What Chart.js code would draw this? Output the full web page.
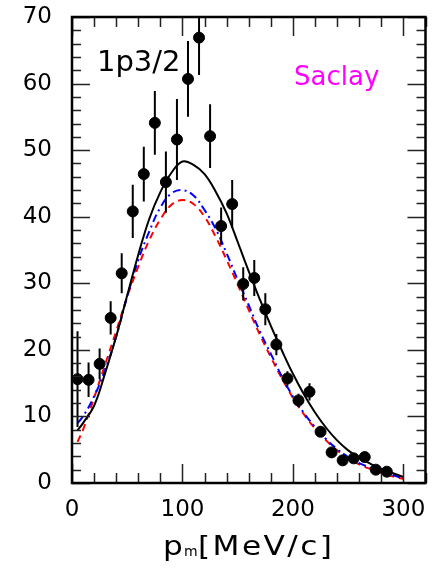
<!DOCTYPE html>
<html>
<head>
<meta charset="utf-8">
<script src="https://cdn.jsdelivr.net/npm/chart.js@4/dist/chart.umd.min.js"></script>
<style>
  html, body { margin: 0; padding: 0; background: #fff; }
  #wrap { width: 432px; height: 570px; }
</style>
</head>
<body>
<div id="wrap"><canvas id="myChart" width="432" height="570"></canvas></div>
<script>
// measured points (p_m in MeV/c)
var pm = [5, 15, 25, 35, 45, 55, 65, 75, 85, 95, 105, 115, 125, 135, 145, 155, 165, 175, 185, 195, 205, 215, 225, 235, 245, 255, 265, 275, 285];
var counts = [15.6, 15.5, 17.9, 24.8, 31.5, 40.8, 46.4, 54.1, 45.2, 51.6, 60.7, 66.9, 52.1, 38.6, 41.9, 29.9, 30.8, 26.1, 20.8, 15.7, 12.4, 13.7, 7.7, 4.6, 3.4, 3.7, 3.9, 2.0, 1.7];
var errs = [7.2, 2.6, 2.3, 2.5, 3.0, 4.0, 4.1, 4.8, 4.6, 6.1, 5.7, 5.6, 4.8, 2.8, 3.6, 2.5, 2.7, 2.4, 1.6, 1.1, 1.0, 1.3, 0.8, 0.7, 0.5, 0.5, 0.5, 0.4, 0.4];

// calculations
var curveX = [5, 10, 20, 30, 40, 50, 60, 70, 80, 90, 100, 110, 120, 130, 140, 150, 160, 170, 180, 190, 200, 210, 220, 230, 240, 250, 260, 270, 280, 290, 300];
var solid = [7.9, 9.0, 11.6, 16.5, 22.0, 28.2, 34.3, 39.7, 43.7, 46.6, 48.3, 47.8, 46.4, 43.8, 40.5, 36.2, 31.8, 27.6, 23.6, 19.9, 16.4, 13.3, 10.6, 8.3, 6.4, 4.9, 3.8, 2.9, 2.1, 1.5, 0.9];
var dashDot = [9.0, 10.0, 13.0, 17.0, 22.0, 28.0, 33.5, 37.8, 41.4, 43.5, 44.0, 43.2, 41.0, 38.2, 34.5, 30.5, 26.7, 22.8, 19.4, 16.0, 13.0, 10.5, 8.4, 6.6, 5.1, 3.9, 3.0, 2.3, 1.7, 1.2, 0.7];
var dashed = [6.2, 8.0, 12.8, 17.8, 22.8, 28.0, 32.5, 36.5, 39.6, 41.8, 42.5, 41.9, 40.0, 37.0, 33.5, 29.8, 26.0, 22.3, 18.9, 15.7, 12.8, 10.3, 8.2, 6.4, 4.9, 3.7, 2.8, 2.1, 1.5, 1.0, 0.6];

var xTicks = [0, 100, 200, 300];
var yTicks = [0, 10, 20, 30, 40, 50, 60, 70];

function pts(xs, ys) {
  var out = [];
  for (var i = 0; i < xs.length; i++) out.push({x: xs[i], y: ys[i]});
  return out;
}

// draw text stretched a bit sideways, the original font is wider than DejaVu
function wideText(ctx, txt, x, y, sx) {
  ctx.save();
  ctx.translate(x, y);
  ctx.scale(sx, 1);
  ctx.fillText(txt, 0, 0);
  ctx.restore();
}

var frameTicks = {
  id: 'frameTicks',
  afterDatasetsDraw: function(chart) {
    var ctx = chart.ctx, a = chart.chartArea;
    var xs = chart.scales.x, ys = chart.scales.y;
    ctx.save();
    // error bars
    ctx.beginPath();
    ctx.rect(a.left, a.top, a.right - a.left, a.bottom - a.top);
    ctx.clip();
    ctx.strokeStyle = '#000';
    ctx.lineWidth = 2;
    for (var i = 0; i < pm.length; i++) {
      var px = xs.getPixelForValue(pm[i]);
      ctx.beginPath();
      ctx.moveTo(px, ys.getPixelForValue(counts[i] - errs[i]));
      ctx.lineTo(px, ys.getPixelForValue(counts[i] + errs[i]));
      ctx.stroke();
    }
    ctx.restore();

    ctx.save();
    ctx.strokeStyle = '#222';
    ctx.lineWidth = 1.5;
    var v, p, len;
    for (v = 0; v <= 320; v += 20) {
      p = Math.round(xs.getPixelForValue(v)) + 0.5;
      len = (v % 100 === 0) ? 19 : 10;
      ctx.beginPath();
      ctx.moveTo(p, a.bottom); ctx.lineTo(p, a.bottom - len);
      ctx.moveTo(p, a.top); ctx.lineTo(p, a.top + len);
      ctx.stroke();
    }
    for (v = 0; v <= 70; v += 2) {
      p = Math.round(ys.getPixelForValue(v)) + 0.5;
      len = (v % 10 === 0) ? 18 : 9;
      ctx.beginPath();
      ctx.moveTo(a.left, p); ctx.lineTo(a.left + len, p);
      ctx.moveTo(a.right, p); ctx.lineTo(a.right - len, p);
      ctx.stroke();
    }
    ctx.strokeStyle = '#000';
    ctx.lineWidth = 2.5;
    ctx.strokeRect(a.left, a.top, a.right - a.left, a.bottom - a.top);
    ctx.restore();
  },
  afterDraw: function(chart) {
    var ctx = chart.ctx;
    ctx.save();
    ctx.textBaseline = 'alphabetic';
    ctx.fillStyle = '#000';
    ctx.font = '29px "DejaVu Sans"';
    ctx.fillText('1p3/2', 97, 71);
    ctx.fillStyle = '#ff00ff';
    ctx.font = '26px "DejaVu Sans"';
    ctx.fillText('Saclay', 294, 85);

    // axis title p_m [MeV/c]
    ctx.fillStyle = '#000';
    ctx.font = '26px "DejaVu Sans"';
    wideText(ctx, 'p', 163, 555, 1.2);
    ctx.font = '14px "DejaVu Sans"';
    wideText(ctx, 'm', 184, 556, 1.0);
    ctx.font = '26px "DejaVu Sans"';
    ctx.letterSpacing = '2px';
    wideText(ctx, '[MeV/c]', 198, 555, 1.2);
    ctx.restore();
  }
};

var ctx = document.getElementById('myChart');
var myChart = new Chart(ctx, {
  type: 'scatter',
  data: {
    datasets: [{
      label: 'data',
      data: pts(pm, counts),
      backgroundColor: '#000',
      borderColor: '#000',
      pointRadius: 5.5,
      showLine: false,
      order: 0
    }, {
      label: 'solid',
      data: pts(curveX, solid),
      borderColor: '#000',
      borderWidth: 2,
      pointRadius: 0,
      showLine: true,
      tension: 0.4,
      order: 1
    }, {
      label: 'dash-dot',
      data: pts(curveX, dashDot),
      borderColor: '#0000ff',
      borderWidth: 2,
      borderDash: [8, 4, 2, 4],
      pointRadius: 0,
      showLine: true,
      tension: 0.4,
      order: 2
    }, {
      label: 'dashed',
      data: pts(curveX, dashed),
      borderColor: '#ff0000',
      borderWidth: 2,
      borderDash: [7, 5],
      pointRadius: 0,
      showLine: true,
      tension: 0.4,
      order: 3
    }]
  },
  options: {
    responsive: false,
    animation: false,
    layout: { padding: { top: 17, right: 5, left: 0, bottom: 0 } },
    plugins: { legend: { display: false }, tooltip: { enabled: false } },
    scales: {
      x: {
        type: 'linear', min: 0, max: 320,
        grid: { display: false, drawTicks: false },
        border: { display: false },
        afterFit: function(s) { s.height = 87; s.paddingLeft = 0; s.paddingRight = 0; },
        afterBuildTicks: function(s) { s.ticks = xTicks.map(function(v) { return {value: v}; }); },
        ticks: { padding: 13, color: '#000', font: { family: 'DejaVu Sans', size: 23 } }
      },
      y: {
        type: 'linear', min: 0, max: 70,
        grid: { display: false, drawTicks: false },
        border: { display: false },
        afterFit: function(s) { s.width = 72; s.paddingTop = 0; s.paddingBottom = 0; },
        afterBuildTicks: function(s) { s.ticks = yTicks.map(function(v) { return {value: v}; }); },
        ticks: { padding: 20, color: '#000', font: { family: 'DejaVu Sans', size: 23 } }
      }
    }
  },
  plugins: [frameTicks]
});
</script>
</body>
</html>
